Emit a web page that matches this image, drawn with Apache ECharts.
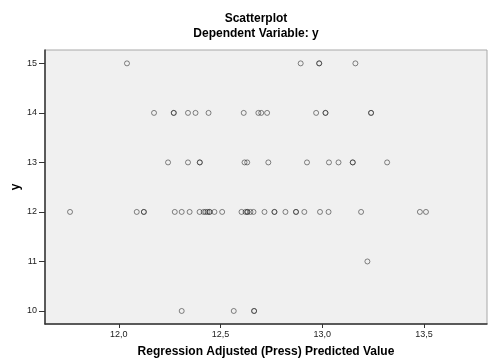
<!DOCTYPE html>
<html>
<head>
<meta charset="utf-8">
<script src="https://cdn.jsdelivr.net/npm/echarts@6/dist/echarts.min.js"></script>
<style>
  html, body { margin: 0; padding: 0; background: #fff; }
  #chart { width: 488px; height: 359px; }
</style>
</head>
<body>
<div id="chart"></div>
<script>
const predAtY15 = [12.04, 12.894, 12.985, 12.985, 13.163];
const predAtY14 = [12.173, 12.27, 12.27, 12.34, 12.377, 12.441, 12.614, 12.686, 12.70,
  12.729, 12.97, 13.016, 13.016, 13.24, 13.24];
const predAtY13 = [12.242, 12.34, 12.398, 12.398, 12.618, 12.631, 12.735, 12.925, 13.033,
  13.08, 13.15, 13.15, 13.319];
const predAtY12 = [11.76, 12.088, 12.123, 12.123, 12.275, 12.309, 12.348, 12.397, 12.417,
  12.426, 12.436, 12.446, 12.446, 12.47, 12.508, 12.603, 12.623, 12.632, 12.632, 12.647,
  12.662, 12.716, 12.765, 12.765, 12.819, 12.871, 12.871, 12.912, 12.989, 13.031, 13.191,
  13.48, 13.51];
const predAtY11 = [13.222];
const predAtY10 = [12.309, 12.565, 12.665, 12.665];

const yLevels = [15, 14, 13, 12, 11, 10];
const predByLevel = [predAtY15, predAtY14, predAtY13, predAtY12, predAtY11, predAtY10];

const xTicks = [12.0, 12.5, 13.0, 13.5];
const yTicks = [10, 11, 12, 13, 14, 15];

const points = [];
yLevels.forEach((y, i) => {
  predByLevel[i].forEach(x => points.push([x, y]));
});

const chart = echarts.init(document.getElementById('chart'));
const labelFont = 'Liberation Sans, Arial, sans-serif';

chart.setOption({
  backgroundColor: '#fff',
  animation: false,
  title: {
    text: 'Scatterplot',
    subtext: 'Dependent Variable: y',
    left: 251,
    top: 8,
    textAlign: 'center',
    itemGap: 3,
    textStyle: { fontFamily: labelFont, fontSize: 12, fontWeight: 'bold', color: '#000' },
    subtextStyle: { fontFamily: labelFont, fontSize: 12, fontWeight: 'bold', color: '#000' }
  },
  grid: {
    left: 45, right: 1, top: 50, bottom: 35,
    outerBoundsMode: 'none',
    containLabel: false,
    show: true,
    backgroundColor: '#f0f0f0',
    borderColor: '#a8a8a8',
    borderWidth: 1
  },
  xAxis: {
    type: 'value',
    min: 11.637,
    max: 13.81,
    name: 'Regression Adjusted (Press) Predicted Value',
    nameLocation: 'middle',
    nameGap: 22,
    nameMoveOverlap: false,
    nameTextStyle: { fontFamily: labelFont, fontSize: 12, fontWeight: 'bold', color: '#000' },
    axisLine: { onZero: false, lineStyle: { color: '#333', width: 1.5 } },
    axisTick: { customValues: xTicks, length: 4, lineStyle: { color: '#333' } },
    axisLabel: {
      customValues: xTicks,
      margin: 6,
      fontFamily: labelFont,
      fontSize: 9,
      color: '#222',
      formatter: v => v.toFixed(1).replace('.', ',')
    },
    splitLine: { show: false }
  },
  yAxis: {
    type: 'value',
    min: 9.737,
    max: 15.27,
    name: 'y',
    nameLocation: 'middle',
    nameGap: 23,
    nameMoveOverlap: false,
    nameTextStyle: { fontFamily: labelFont, fontSize: 12, fontWeight: 'bold', color: '#000' },
    axisLine: { show: true, onZero: false, lineStyle: { color: '#333', width: 1.5 } },
    axisTick: { show: true, customValues: yTicks, length: 6, lineStyle: { color: '#333' } },
    axisLabel: {
      customValues: yTicks,
      margin: 8,
      fontFamily: labelFont,
      fontSize: 9,
      color: '#222'
    },
    splitLine: { show: false }
  },
  series: [{
    type: 'scatter',
    symbol: 'circle',
    symbolSize: 5,
    itemStyle: {
      color: 'rgba(0,0,0,0)',
      borderColor: 'rgba(40,40,40,0.7)',
      borderWidth: 1
    },
    emphasis: { disabled: true },
    data: points
  }]
});
</script>
</body>
</html>
